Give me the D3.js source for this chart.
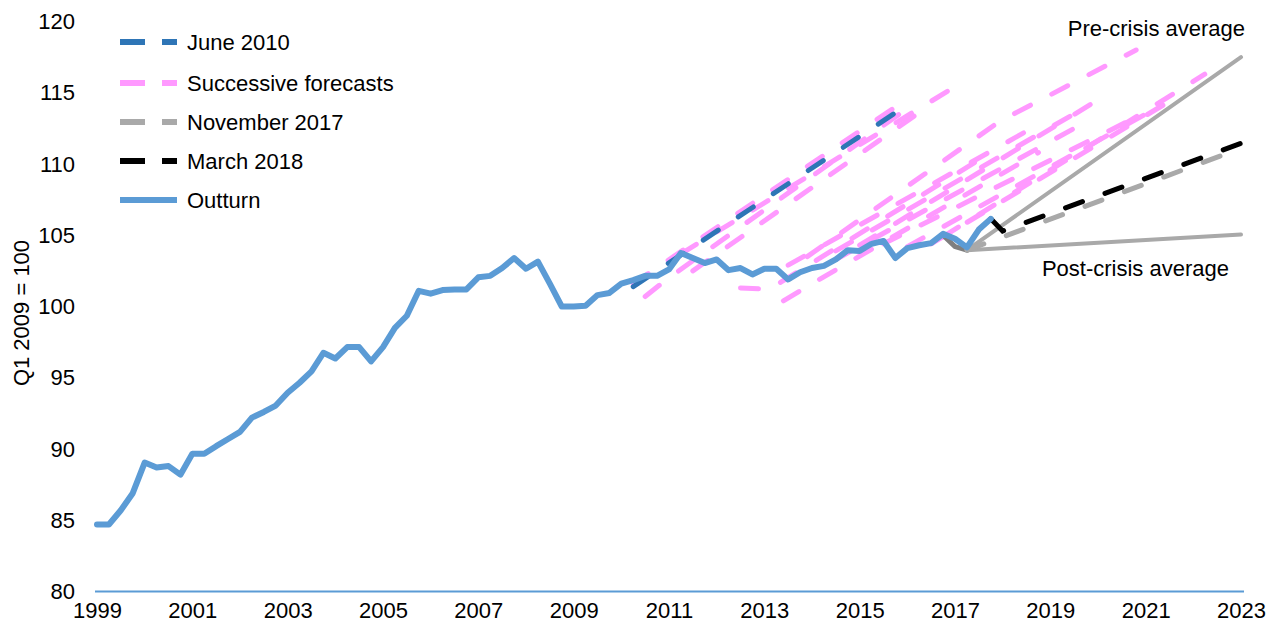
<!DOCTYPE html>
<html>
<head>
<meta charset="utf-8">
<script src="https://cdn.jsdelivr.net/npm/d3@7"></script>
<style>
  body { margin: 0; background: #fff; }
  svg text { font-family: 'Liberation Sans', Arial, sans-serif; fill: #000; }
</style>
</head>
<body>
<script>
// quarterly outturn, Q1 1999 to Q4 2017
var outturnStart = 1999;
var outturn = [
  84.7, 84.7, 85.7, 86.9, 89.05, 88.7, 88.8, 88.2,
  89.66, 89.66, 90.2, 90.7, 91.2, 92.2, 92.6, 93.05,
  93.95, 94.65, 95.45, 96.75, 96.35, 97.15, 97.15, 96.15,
  97.15, 98.5, 99.35, 101.1, 100.9, 101.15, 101.2, 101.2,
  102.05, 102.15, 102.7, 103.4, 102.65, 103.15, 101.6, 100.0,
  100.0, 100.05, 100.8, 100.95, 101.6, 101.85, 102.15, 102.15,
  102.6, 103.75, 103.4, 103.05, 103.3, 102.55, 102.7, 102.25,
  102.65, 102.65, 101.9, 102.4, 102.7, 102.85, 103.3, 103.95,
  103.9, 104.4, 104.6, 103.4, 104.1, 104.3, 104.45, 105.1,
  104.75, 104.15, 105.4, 106.15
];

var june2010 = [[2010.25, 101.4], [2015.75, 113.6]];

var successive = [
  [[2010.25, 101.6], [2015.84, 114.2]],
  [[2010.5, 100.7], [2010.95, 101.9], [2016.0, 113.9]],
  [[2011.25, 103.7], [2016.89, 115.2]],
  [[2011.5, 102.5], [2016.2, 113.5]],
  [[2012.5, 101.3], [2013.1, 101.2], [2017.75, 110.8]],
  [[2013.4, 100.4], [2014.0, 101.6], [2018.75, 110.8]],
  [[2013.5, 102.9], [2018.5, 112.3]],
  [[2013.9, 103.5], [2017.94, 113.0], [2020.8, 118.0]],
  [[2014.5, 103.3], [2019.5, 112.5]],
  [[2014.5, 103.9], [2019.75, 114.0]],
  [[2015.0, 104.3], [2020.0, 114.5]],
  [[2015.5, 104.4], [2020.75, 113.2]],
  [[2016.0, 104.2], [2021.0, 113.5]],
  [[2016.5, 104.4], [2021.65, 114.7]],
  [[2016.75, 104.9], [2022.24, 116.3]]
];

var nov2017History = [[2016.75, 105.0], [2017.0, 104.2], [2017.25, 103.95]];
var nov2017 = [[2017.25, 103.95], [2023, 111.1]];
var march2018 = [[2017.75, 106.15], [2018.0, 105.3], [2023, 111.45]];
var preCrisis = [[2017.25, 103.95], [2023, 117.5]];
var postCrisis = [[2017.25, 103.95], [2023, 105.05]];

var xTicks = [1999, 2001, 2003, 2005, 2007, 2009, 2011, 2013, 2015, 2017, 2019, 2021, 2023];
var yTicks = [80, 85, 90, 95, 100, 105, 110, 115, 120];

var legendItems = [
  {label: 'June 2010', color: '#2e75b6', dash: true},
  {label: 'Successive forecasts', color: '#ff99ff', dash: true},
  {label: 'November 2017', color: '#a9a9a9', dash: true},
  {label: 'March 2018', color: '#000000', dash: true},
  {label: 'Outturn', color: '#5b9bd5', dash: false}
];

var width = 1275, height = 630;

var svg = d3.select('body').append('svg')
  .attr('width', width)
  .attr('height', height);

var x = d3.scaleLinear().domain([1999, 2023]).range([97, 1241]);
var y = d3.scaleLinear().domain([80, 120]).range([591.5, 21.5]);

var line = d3.line()
  .x(function(d) { return x(d[0]); })
  .y(function(d) { return y(d[1]); });

var outturnPts = outturn.map(function(v, i) { return [outturnStart + i / 4, v]; });

// axes
var xAxis = d3.axisBottom(x)
  .tickValues(xTicks)
  .tickFormat(d3.format('d'))
  .tickSize(0)
  .tickPadding(11);

var gx = svg.append('g')
  .attr('transform', 'translate(0,' + y(80) + ')')
  .call(xAxis);
gx.select('.domain').remove();
gx.selectAll('text').style('font-size', '22px');

svg.append('line')
  .attr('x1', x(1999) - 2).attr('x2', x(2023) + 3)
  .attr('y1', y(80)).attr('y2', y(80))
  .attr('stroke', '#5b9bd5')
  .attr('stroke-width', 2);

var yAxis = d3.axisLeft(y)
  .tickValues(yTicks)
  .tickSize(0)
  .tickPadding(0);

var gy = svg.append('g')
  .attr('transform', 'translate(75,0)')
  .call(yAxis);
gy.select('.domain').remove();
gy.selectAll('text').style('font-size', '22px');

svg.append('text')
  .attr('transform', 'translate(29,313) rotate(-90)')
  .attr('text-anchor', 'middle')
  .style('font-size', '22px')
  .text('Q1 2009 = 100');

// forecasts
var dash = '18,24';

svg.append('g').selectAll('path')
  .data(successive)
  .enter().append('path')
  .attr('d', line)
  .attr('fill', 'none')
  .attr('stroke', '#ff99ff')
  .attr('stroke-width', 5)
  .attr('stroke-linecap', 'round')
  .attr('stroke-dasharray', dash);

svg.append('path')
  .attr('d', line(june2010))
  .attr('fill', 'none')
  .attr('stroke', '#2e75b6')
  .attr('stroke-width', 5)
  .attr('stroke-linecap', 'round')
  .attr('stroke-dasharray', dash);

[preCrisis, postCrisis].forEach(function(s) {
  svg.append('path')
    .attr('d', line(s))
    .attr('fill', 'none')
    .attr('stroke', '#a9a9a9')
    .attr('stroke-width', 4)
    .attr('stroke-linecap', 'round');
});

svg.append('path')
  .attr('d', line(nov2017History))
  .attr('fill', 'none')
  .attr('stroke', '#7f7f7f')
  .attr('stroke-width', 5)
  .attr('stroke-linecap', 'round');

svg.append('path')
  .attr('d', line(nov2017))
  .attr('fill', 'none')
  .attr('stroke', '#a9a9a9')
  .attr('stroke-width', 5)
  .attr('stroke-linecap', 'round')
  .attr('stroke-dasharray', dash);

svg.append('path')
  .attr('d', line(march2018))
  .attr('fill', 'none')
  .attr('stroke', '#000')
  .attr('stroke-width', 5)
  .attr('stroke-linecap', 'round')
  .attr('stroke-dasharray', dash);

svg.append('path')
  .attr('d', line(outturnPts))
  .attr('fill', 'none')
  .attr('stroke', '#5b9bd5')
  .attr('stroke-width', 6)
  .attr('stroke-linejoin', 'round')
  .attr('stroke-linecap', 'round');

// annotations
svg.append('text')
  .attr('x', 1245).attr('y', 36)
  .attr('text-anchor', 'end')
  .style('font-size', '22px')
  .text('Pre-crisis average');

svg.append('text')
  .attr('x', 1229).attr('y', 276)
  .attr('text-anchor', 'end')
  .style('font-size', '22px')
  .text('Post-crisis average');

// legend
var legend = svg.append('g').selectAll('g')
  .data(legendItems)
  .enter().append('g')
  .attr('transform', function(d, i) { return 'translate(120,' + [42, 83, 122, 161, 200][i] + ')'; });

legend.append('line')
  .attr('x1', 0).attr('x2', 57)
  .attr('stroke', function(d) { return d.color; })
  .attr('stroke-width', 6)
  .attr('stroke-dasharray', function(d) { return d.dash ? '25,17' : null; });

legend.append('text')
  .attr('x', 67)
  .attr('dy', '0.35em')
  .style('font-size', '22px')
  .text(function(d) { return d.label; });
</script>
</body>
</html>
